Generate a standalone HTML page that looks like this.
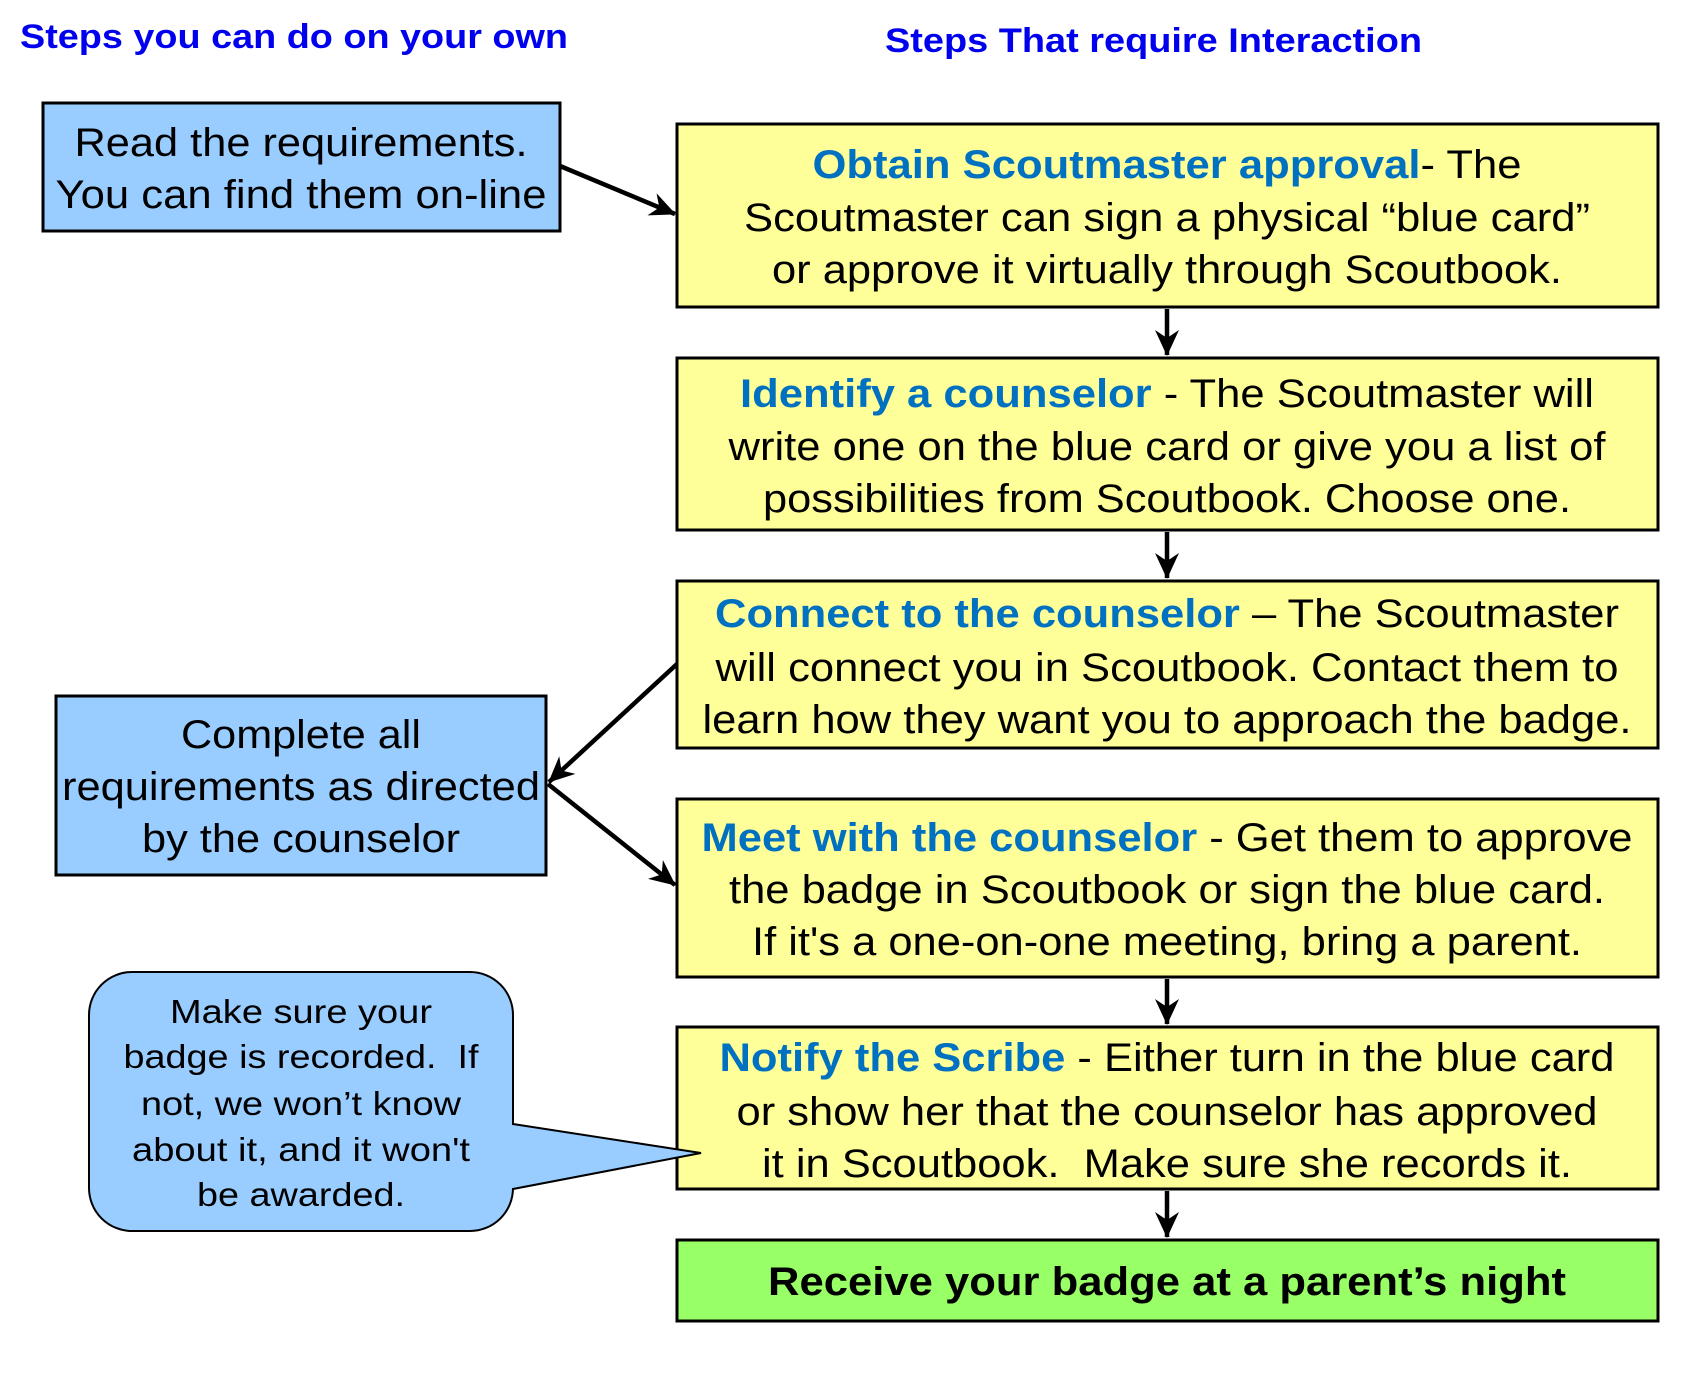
<!DOCTYPE html>
<html><head><meta charset="utf-8"><style>
html,body{margin:0;padding:0;background:#fff;}
svg{display:block;}
text{font-family:"Liberation Sans",Arial,sans-serif;white-space:pre;}
.t{font-size:40px;fill:#000;}
.b{fill:#0070c0;font-weight:bold;}
.h{font-size:34px;font-weight:bold;fill:#0000ee;}
.c{font-size:33px;fill:#000;}
</style></head><body>
<svg width="1700" height="1400" viewBox="0 0 1700 1400" xmlns="http://www.w3.org/2000/svg" xml:space="preserve">
<defs>
<marker id="ar" viewBox="0 0 26 24" refX="25" refY="12" markerWidth="26" markerHeight="24" markerUnits="userSpaceOnUse" orient="auto">
<path d="M0,0 L26,12 L0,24 L8,12 Z" fill="#000"/>
</marker>
</defs>
<text class="h" x="20" y="48" textLength="548" lengthAdjust="spacingAndGlyphs">Steps you can do on your own</text>
<text class="h" x="885" y="52" textLength="537" lengthAdjust="spacingAndGlyphs">Steps That require Interaction</text>

<g stroke="#000" stroke-width="3">
<rect x="43" y="103" width="517" height="128" fill="#99ccff"/>
<rect x="56" y="696" width="490" height="179" fill="#99ccff"/>
<rect x="677" y="124" width="981" height="183" fill="#ffff99"/>
<rect x="677" y="358" width="981" height="172" fill="#ffff99"/>
<rect x="677" y="581" width="981" height="167" fill="#ffff99"/>
<rect x="677" y="799" width="981" height="178" fill="#ffff99"/>
<rect x="677" y="1027" width="981" height="162" fill="#ffff99"/>
<rect x="677" y="1240" width="981" height="81" fill="#99ff66"/>
</g>
<path d="M132,972 H470 A43,43 0 0 1 513,1015 V1124 L701,1153 L513,1189 V1188 A43,43 0 0 1 470,1231 H132 A43,43 0 0 1 89,1188 V1015 A43,43 0 0 1 132,972 Z" fill="#99ccff" stroke="#000" stroke-width="2"/>

<g stroke="#000" stroke-width="4.5" fill="none">
<line x1="560" y1="166" x2="675" y2="214" marker-end="url(#ar)"/>
<line x1="1167" y1="309" x2="1167" y2="355" marker-end="url(#ar)"/>
<line x1="1167" y1="532" x2="1167" y2="578" marker-end="url(#ar)"/>
<line x1="1167" y1="979" x2="1167" y2="1024" marker-end="url(#ar)"/>
<line x1="1167" y1="1191" x2="1167" y2="1237" marker-end="url(#ar)"/>
<line x1="677" y1="664" x2="549" y2="782" marker-end="url(#ar)"/>
<line x1="548" y1="784" x2="675" y2="885" marker-end="url(#ar)"/>
</g>

<g text-anchor="middle">
<text class="t" x="301" y="156" textLength="453" lengthAdjust="spacingAndGlyphs">Read the requirements.</text>
<text class="t" x="301" y="208" textLength="491" lengthAdjust="spacingAndGlyphs">You can find them on-line</text>

<text class="t" x="301" y="748" textLength="240" lengthAdjust="spacingAndGlyphs">Complete all</text>
<text class="t" x="301" y="800" textLength="478" lengthAdjust="spacingAndGlyphs">requirements as directed</text>
<text class="t" x="301" y="852" textLength="318" lengthAdjust="spacingAndGlyphs">by the counselor</text>

<text class="t" x="1167" y="178" textLength="709" lengthAdjust="spacingAndGlyphs"><tspan class="b">Obtain Scoutmaster approval</tspan>- The</text>
<text class="t" x="1167" y="231" textLength="846" lengthAdjust="spacingAndGlyphs">Scoutmaster can sign a physical “blue card”</text>
<text class="t" x="1167" y="283" textLength="790" lengthAdjust="spacingAndGlyphs">or approve it virtually through Scoutbook.</text>

<text class="t" x="1167" y="407" textLength="854" lengthAdjust="spacingAndGlyphs"><tspan class="b">Identify a counselor</tspan> - The Scoutmaster will</text>
<text class="t" x="1167" y="460" textLength="877" lengthAdjust="spacingAndGlyphs">write one on the blue card or give you a list of</text>
<text class="t" x="1167" y="512" textLength="808" lengthAdjust="spacingAndGlyphs">possibilities from Scoutbook. Choose one.</text>

<text class="t" x="1167" y="627" textLength="904" lengthAdjust="spacingAndGlyphs"><tspan class="b">Connect to the counselor</tspan> – The Scoutmaster</text>
<text class="t" x="1167" y="681" textLength="903" lengthAdjust="spacingAndGlyphs">will connect you in Scoutbook. Contact them to</text>
<text class="t" x="1167" y="733" textLength="929" lengthAdjust="spacingAndGlyphs">learn how they want you to approach the badge.</text>

<text class="t" x="1167" y="851" textLength="931" lengthAdjust="spacingAndGlyphs"><tspan class="b">Meet with the counselor</tspan> - Get them to approve</text>
<text class="t" x="1167" y="903" textLength="876" lengthAdjust="spacingAndGlyphs">the badge in Scoutbook or sign the blue card.</text>
<text class="t" x="1167" y="955" textLength="830" lengthAdjust="spacingAndGlyphs">If it's a one-on-one meeting, bring a parent.</text>

<text class="t" x="1167" y="1071" textLength="895" lengthAdjust="spacingAndGlyphs"><tspan class="b">Notify the Scribe</tspan> - Either turn in the blue card</text>
<text class="t" x="1167" y="1125" textLength="861" lengthAdjust="spacingAndGlyphs">or show her that the counselor has approved</text>
<text class="t" x="1167" y="1177" textLength="810" lengthAdjust="spacingAndGlyphs">it in Scoutbook.&#160; Make sure she records it.</text>

<text class="t" x="1167" y="1295" font-weight="bold" textLength="798" lengthAdjust="spacingAndGlyphs">Receive your badge at a parent’s night</text>

<text class="c" x="301" y="1023" textLength="262" lengthAdjust="spacingAndGlyphs">Make sure your</text>
<text class="c" x="301" y="1068" textLength="355" lengthAdjust="spacingAndGlyphs">badge is recorded.&#160; If</text>
<text class="c" x="301" y="1115" textLength="320" lengthAdjust="spacingAndGlyphs">not, we won’t know</text>
<text class="c" x="301" y="1161" textLength="338" lengthAdjust="spacingAndGlyphs">about it, and it won't</text>
<text class="c" x="301" y="1206" textLength="208" lengthAdjust="spacingAndGlyphs">be awarded.</text>
</g>
</svg>
</body></html>
